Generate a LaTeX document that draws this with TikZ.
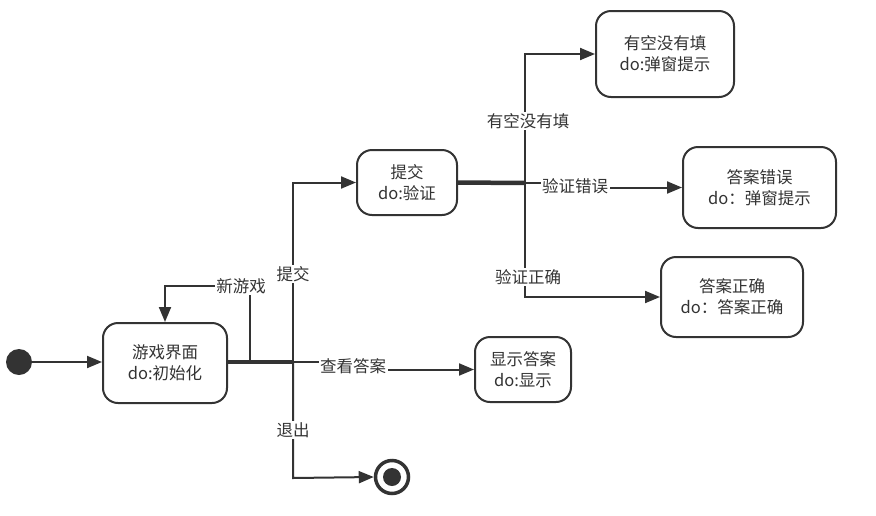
\documentclass[tikz,border=0pt]{standalone}
\usepackage{fontspec}
\setmainfont{Noto Sans CJK SC}
\usetikzlibrary{arrows.meta}
\definecolor{ink}{HTML}{333333}
\begin{document}
\begin{tikzpicture}[x=1pt,y=-1pt,
  font=\fontsize{16.5}{21}\selectfont,
  state/.style={draw=ink,line width=2pt,rounded corners=15pt,fill=white,align=center,text=ink,inner sep=0pt},
  flow/.style={draw=ink,line width=2pt,-{Triangle[length=15pt,width=12pt]}},
  bar/.style={draw=ink,line width=4.5pt},
  lbl/.style={fill=white,text=ink,inner sep=1.5pt}]
\useasboundingbox (0,0) rectangle (876,515);
% states
\node[circle,fill=ink,minimum size=26pt,inner sep=0pt] (init) at (19,362) {};
\node[state,minimum width=124pt,minimum height=80pt] (game) at (165,363) {游戏界面\\do:初始化};
\node[state,minimum width=100pt,minimum height=65pt] (submit) at (407,182.5) {提交\\do:验证};
\node[state,minimum width=138pt,minimum height=86pt] (blank) at (665,54) {有空没有填\\do:弹窗提示};
\node[state,minimum width=153pt,minimum height=81pt] (wrong) at (759.5,187.5) {答案错误\\do：弹窗提示};
\node[state,minimum width=142pt,minimum height=80pt] (right) at (732,297) {答案正确\\do：答案正确};
\node[state,minimum width=96pt,minimum height=65pt] (show) at (523,369.5) {显示答案\\do:显示};
\node[circle,draw=ink,line width=3.5pt,fill=white,minimum size=33pt,inner sep=0pt] (final) at (392,477) {};
\fill[ink] (final.center) circle (9pt);
% junctions
\coordinate (j1) at (250,362);
\coordinate (j2) at (293,362);
\coordinate (j3) at (525,183);
\coordinate (nb) at (250,286);
\coordinate (nc) at (165,286);
% edges
\draw[flow] (init) -- (game.west |- init);
\draw[bar] (game.east |- j2) -- (j2);
\draw[flow] (j1) -- (nb) -- (nc) -- (game.north -| nc);
\node[lbl] (lnew) at (241,286) {新游戏};
\draw[flow] (j2) -- (293,182.5) -- (submit.west);
\node[lbl] (lsub) at (293,274) {提交};
\draw[flow] (j2) -- (293,478) -- (final.west);
\node[lbl] (lexit) at (293,430) {退出};
\draw[flow] (j2) -- (353,362) -- (353,369.5) -- (show.west);
\node[lbl] (lshow) at (353,366) {查看答案};
\draw[bar] (submit.east) -- (j3);
\draw[flow] (j3) -- (525,54) -- (blank.west);
\node[lbl] (lblank) at (528,121) {有空没有填};
\draw[flow] (j3) -- (572,183) -- (572,187.5) -- (wrong.west);
\node[lbl] (lwrong) at (575,186) {验证错误};
\draw[flow] (j3) -- (525,297) -- (right.west);
\node[lbl] (lright) at (528,277) {验证正确};
\end{tikzpicture}
\end{document}
